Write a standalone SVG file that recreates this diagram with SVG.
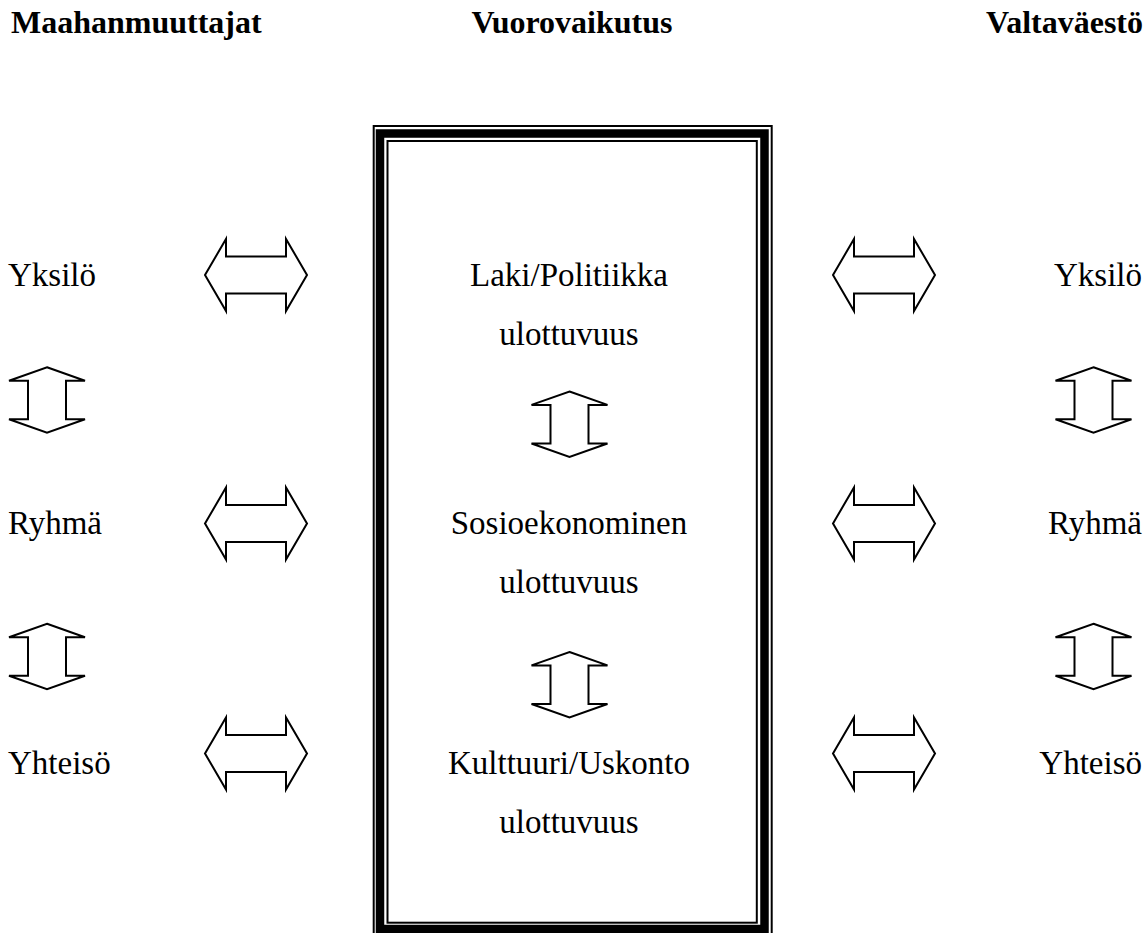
<svg xmlns="http://www.w3.org/2000/svg" xmlns:xlink="http://www.w3.org/1999/xlink" width="1144" height="933" viewBox="0 0 1144 933">
<style>
text{font-family:"Liberation Serif","Times New Roman",serif;font-size:33px;fill:#000}
.h{font-weight:bold;font-size:32px}
.m{text-anchor:middle}
.e{text-anchor:end}
.ar{fill:#fff;stroke:#000;stroke-width:2;stroke-linejoin:miter}
.fr{fill:none;stroke:#000}
</style>
<defs>
<path id="ha" class="ar" d="M-51,0 L-30,-36 L-30,-18.5 L30,-18.5 L30,-36 L51,0 L30,36 L30,18.5 L-30,18.5 L-30,36 Z"/>
<path id="va" class="ar" d="M0,-32.7 L38,-19.3 L19,-19.3 L19,19.3 L38,19.3 L0,32.7 L-38,19.3 L-19,19.3 L-19,-19.3 L-38,-19.3 Z"/>
</defs>
<rect width="1144" height="933" fill="#fff"/>
<g id="headers">
<text class="h" x="11" y="33">Maahanmuuttajat</text>
<text class="h m" x="572" y="33">Vuorovaikutus</text>
<text class="h e" x="1143" y="33">Valtaväestö</text>
</g>
<g id="frame">
<rect class="fr" x="373.7" y="126" width="398" height="900" stroke-width="2"/>
<rect class="fr" x="380" y="133.5" width="384.5" height="795.5" stroke-width="8.5"/>
<rect class="fr" x="387.5" y="141" width="369.3" height="781.7" stroke-width="2"/>
</g>
<g id="left-nodes">
<text id="l-yksilo" x="8" y="286">Yksilö</text>
<text id="l-ryhma" x="8" y="534">Ryhmä</text>
<text id="l-yhteiso" x="8" y="774">Yhteisö</text>
</g>
<g id="center-nodes">
<g id="c-laki"><text class="m" x="569" y="286">Laki/Politiikka</text><text class="m" x="569" y="345">ulottuvuus</text></g>
<g id="c-sosio"><text class="m" x="569" y="534">Sosioekonominen</text><text class="m" x="569" y="593">ulottuvuus</text></g>
<g id="c-kult"><text class="m" x="569" y="774">Kulttuuri/Uskonto</text><text class="m" x="569" y="833">ulottuvuus</text></g>
</g>
<g id="right-nodes">
<text id="r-yksilo" class="e" x="1142" y="286">Yksilö</text>
<text id="r-ryhma" class="e" x="1142" y="534">Ryhmä</text>
<text id="r-yhteiso" class="e" x="1142" y="774">Yhteisö</text>
</g>
<g id="connectors">
<use xlink:href="#ha" href="#ha" x="256" y="275"/>
<use xlink:href="#ha" href="#ha" x="256" y="523.5"/>
<use xlink:href="#ha" href="#ha" x="256" y="753.5"/>
<use xlink:href="#ha" href="#ha" x="884" y="275"/>
<use xlink:href="#ha" href="#ha" x="884" y="523.5"/>
<use xlink:href="#ha" href="#ha" x="884" y="753.5"/>
<use xlink:href="#va" href="#va" x="47" y="400"/>
<use xlink:href="#va" href="#va" x="47" y="656.5"/>
<use xlink:href="#va" href="#va" x="569.5" y="424.2"/>
<use xlink:href="#va" href="#va" x="569.5" y="684.7"/>
<use xlink:href="#va" href="#va" x="1093.5" y="400"/>
<use xlink:href="#va" href="#va" x="1093.5" y="656.5"/>
</g>
</svg>
